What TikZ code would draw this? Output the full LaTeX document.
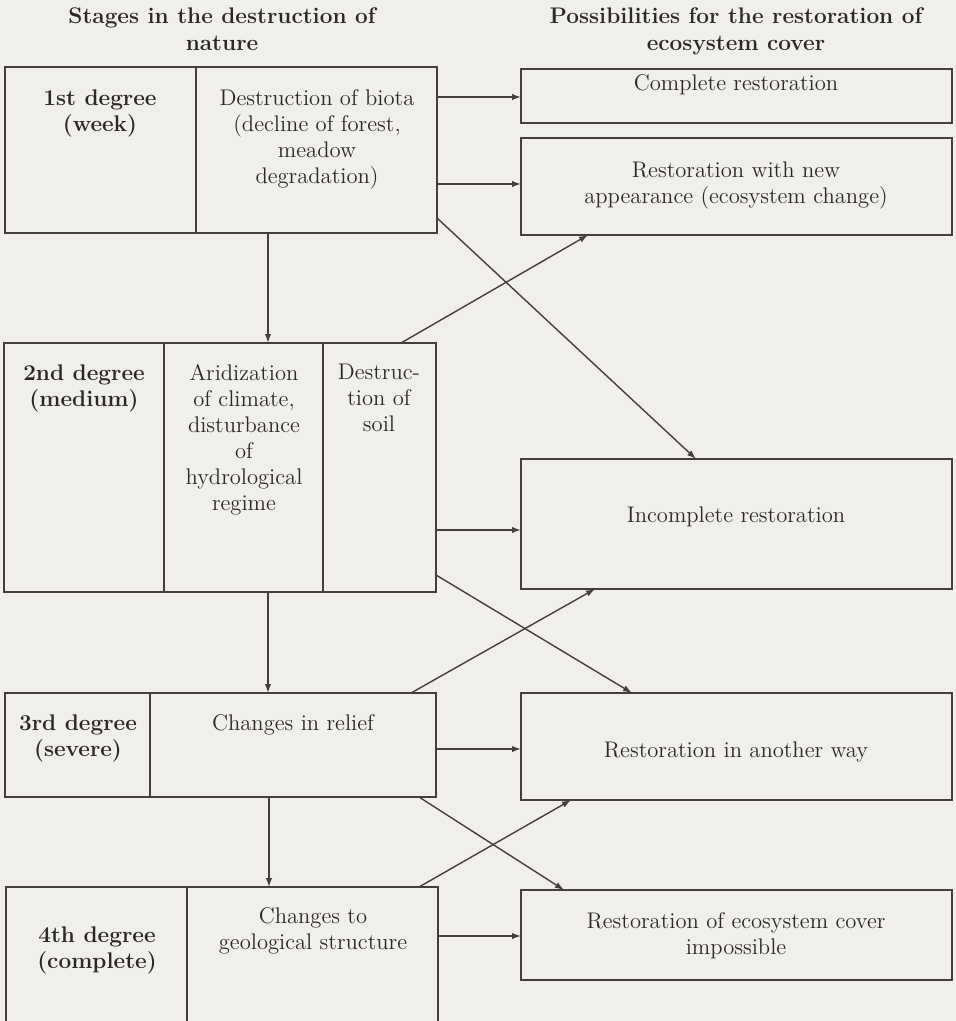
\documentclass[tikz,border=0pt]{standalone}
\usetikzlibrary{arrows.meta,fit}
\definecolor{bgc}{RGB}{240,239,235}
\definecolor{linec}{RGB}{70,62,62}
\definecolor{textc}{RGB}{45,40,40}
\begin{document}
\begin{tikzpicture}[x=0.5pt,y=-0.5pt,
  every node/.style={font=\fontsize{11.3}{13}\selectfont, text=textc},
  cell/.style={draw=linec, line width=0.7pt, inner sep=0pt, outer sep=0pt},
  txt/.style={anchor=north, align=center, inner sep=0pt},
  hd/.style={txt, font=\fontsize{11.3}{13.5}\selectfont\bfseries},
  arr/.style={draw=linec, line width=0.7pt, -{Latex[length=4.5pt,width=3.2pt]}},
  ln/.style={draw=linec, line width=0.7pt}]
\fill[bgc] (0,0) rectangle (956,1021);
\useasboundingbox (0,0) rectangle (956,1021);
\clip (0,0) rectangle (956,1021);

% headers
\node[hd] (hl) at (222,7) {Stages in the destruction of\\nature};
\node[hd] (hr) at (736,7) {Possibilities for the restoration of\\ecosystem cover};

% left boxes
\node[cell, fit={(5,67) (196,233)}] (b1a) {};
\node[cell, fit={(196,67) (437,233)}] (b1b) {};
\node[cell, fit={(4,343) (164,592)}] (b2a) {};
\node[cell, fit={(164,343) (323,592)}] (b2b) {};
\node[cell, fit={(323,343) (436,592)}] (b2c) {};
\node[cell, fit={(5,693) (150,797)}] (b3a) {};
\node[cell, fit={(150,693) (436,797)}] (b3b) {};
\node[cell, fit={(6,887) (187,1045)}] (b4a) {};
\node[cell, fit={(187,887) (438,1045)}] (b4b) {};

% right boxes
\node[cell, fit={(521,69) (952,123)}] (comp) {};
\node[cell, fit={(521,138) (952,235)}] (newapp) {};
\node[cell, fit={(521,459) (952,589)}] (incomp) {};
\node[cell, fit={(521,693) (952,800)}] (another) {};
\node[cell, fit={(521,890) (952,980)}] (imposs) {};

% texts
\node[txt, font=\fontsize{11.3}{13}\selectfont\bfseries] (t1a) at (100,89) {1st degree\\(week)};
\node[txt] (t1b) at (317,89) {Destruction of biota\\(decline of forest,\\meadow\\degradation)};
\node[txt, font=\fontsize{11.3}{13}\selectfont\bfseries] (t2a) at (84,364) {2nd degree\\(medium)};
\node[txt] (t2b) at (244,364) {Aridization\\of climate,\\disturbance\\of\\hydrological\\regime};
\node[txt] (t2c) at (379,364) {Destruc-\\tion of\\soil};
\node[txt, font=\fontsize{11.3}{13}\selectfont\bfseries] (t3a) at (78,714) {3rd degree\\(severe)};
\node[txt] (t3b) at (293,714) {Changes in relief};
\node[txt, font=\fontsize{11.3}{13}\selectfont\bfseries] (t4a) at (97,926) {4th degree\\(complete)};
\node[txt] (t4b) at (313,907) {Changes to\\geological structure};

\node[txt] (tc) at (736,74) {Complete restoration};
\node[txt] (tn) at (736,161) {Restoration with new\\appearance (ecosystem change)};
\node[txt] (ti) at (736,506) {Incomplete restoration};
\node[txt] (ta) at (736,741) {Restoration in another way};
\node[txt] (tm) at (736,912) {Restoration of ecosystem cover\\impossible};

% vertical arrows
\draw[arr] (b1b.south -| 268,0) -- (b2b.north -| 268,0);
\draw[arr] (b2b.south -| 268,0) -- (b3b.north -| 268,0);
\draw[arr] (b3b.south -| 269,0) -- (b4b.north -| 269,0);

% horizontal arrows
\draw[arr] (b1b.east |- 0,97) -- (comp.west |- 0,97);
\draw[arr] (b1b.east |- 0,184) -- (newapp.west |- 0,184);
\draw[arr] (b2c.east |- 0,530) -- (incomp.west |- 0,530);
\draw[arr] (b3b.east |- 0,749) -- (another.west |- 0,749);
\draw[arr] (b4b.east |- 0,936) -- (imposs.west |- 0,936);

% diagonal arrows
\draw[arr] (b1b.east |- 0,218) -- (incomp.north -| 696,0);
\draw[arr] (b2c.north -| 401,0) -- (newapp.south -| 588,0);
\draw[arr] (b2c.east |- 0,575) -- (another.north -| 632,0);
\draw[arr] (b3b.north -| 411,0) -- (incomp.south -| 595,0);
\draw[arr] (b3b.south -| 419,0) -- (imposs.north -| 564,0);
\draw[arr] (b4b.north -| 419,0) -- (another.south -| 571,0);
\end{tikzpicture}
\end{document}
